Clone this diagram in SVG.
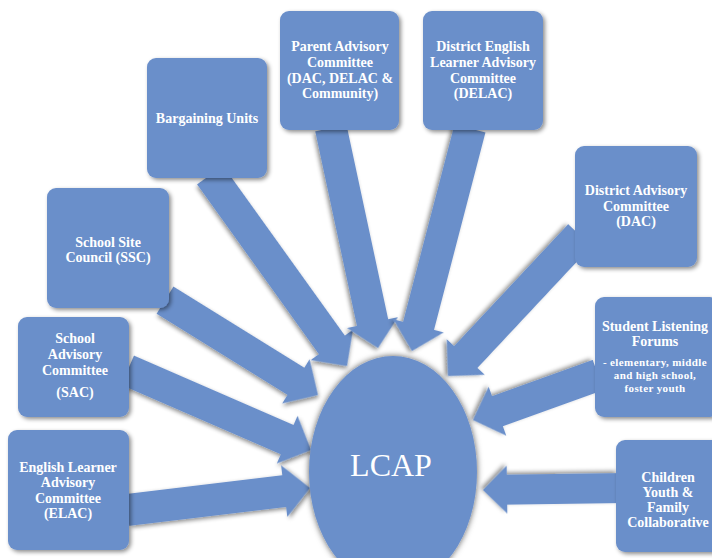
<svg xmlns="http://www.w3.org/2000/svg" width="712" height="558" viewBox="0 0 712 558">
  <defs>
    <filter id="shadow" x="-20%" y="-20%" width="140%" height="140%">
      <feDropShadow dx="2" dy="2" stdDeviation="2" flood-color="#000" flood-opacity="0.45"/>
    </filter>
    <filter id="halo" x="-20%" y="-20%" width="140%" height="140%">
      <feDropShadow dx="0" dy="0" stdDeviation="3" flood-color="#000" flood-opacity="0.65"/>
    </filter>
  </defs>
  <style>
    .box { fill: #6b8fca; filter: url(#shadow); }
    .arrow { fill: #6b8fca; filter: url(#shadow); }
    .hub { fill: #6b8fca; filter: url(#halo); }
    .label { font-family: "Liberation Serif", "DejaVu Serif", serif; font-weight: bold; font-size: 14px; fill: #ffffff; text-anchor: middle; }
    .small { font-size: 11px; letter-spacing: 0.4px; }
    .title { font-family: "Liberation Serif", "DejaVu Serif", serif; font-size: 32px; fill: #ffffff; text-anchor: middle; }
  </style>
  <rect width="712" height="558" fill="#ffffff"/>

  <!-- block arrows: each drawn pointing along +x with its tip at the origin -->
  <g id="connectors">
    <path class="arrow" transform="translate(347,366) rotate(54.35)" d="M-235,-16H-26V-26L0,0L-26,26V16H-235Z"/>
    <path class="arrow" transform="translate(378,348) rotate(77.9)" d="M-225,-16H-26V-26L0,0L-26,26V16H-225Z"/>
    <path class="arrow" transform="translate(412,351) rotate(104.6)" d="M-230,-16H-26V-26L0,0L-26,26V16H-230Z"/>
    <path class="arrow" transform="translate(448,376) rotate(133.1)" d="M-193,-16H-26V-26L0,0L-26,26V16H-193Z"/>
    <path class="arrow" transform="translate(473,420) rotate(160.2)" d="M-133,-16H-26V-26L0,0L-26,26V16H-133Z"/>
    <path class="arrow" transform="translate(483,490) rotate(179.2)" d="M-135,-15H-24V-24L0,0L-24,24V15H-135Z"/>
    <path class="arrow" transform="translate(318,395) rotate(31.8)" d="M-180,-16H-26V-26L0,0L-26,26V16H-180Z"/>
    <path class="arrow" transform="translate(311,450) rotate(23.5)" d="M-200,-16H-26V-26L0,0L-26,26V16H-200Z"/>
    <path class="arrow" transform="translate(310,488) rotate(-6.86)" d="M-184,-16H-26V-26L0,0L-26,26V16H-184Z"/>
  </g>

  <g id="bargaining-units">
    <rect class="box" x="147" y="58" width="120" height="120" rx="9"/>
    <text class="label" x="207" y="123">Bargaining Units</text>
  </g>

  <g id="parent-advisory">
    <rect class="box" x="280" y="11" width="119" height="119" rx="9"/>
    <text class="label" x="340" y="51">Parent Advisory</text>
    <text class="label" x="340" y="67">Committee</text>
    <text class="label" x="340" y="83">(DAC, DELAC &amp;</text>
    <text class="label" x="340" y="98">Community)</text>
  </g>

  <g id="delac">
    <rect class="box" x="423" y="11" width="120" height="119" rx="9"/>
    <text class="label" x="483" y="51">District English</text>
    <text class="label" x="483" y="67">Learner Advisory</text>
    <text class="label" x="483" y="83">Committee</text>
    <text class="label" x="483" y="98">(DELAC)</text>
  </g>

  <g id="dac">
    <rect class="box" x="575" y="146" width="122" height="121" rx="9"/>
    <text class="label" x="636" y="195">District Advisory</text>
    <text class="label" x="636" y="211">Committee</text>
    <text class="label" x="636" y="226">(DAC)</text>
  </g>

  <g id="student-listening">
    <rect class="box" x="595" y="297" width="124" height="120" rx="9"/>
    <text class="label" x="655" y="331">Student Listening</text>
    <text class="label" x="655" y="346">Forums</text>
    <text class="label small" x="655" y="366">- elementary, middle</text>
    <text class="label small" x="655" y="379">and high school,</text>
    <text class="label small" x="655" y="392">foster youth</text>
  </g>

  <g id="children-youth">
    <rect class="box" x="616" y="440" width="106" height="112" rx="9"/>
    <text class="label" x="668" y="482">Children</text>
    <text class="label" x="668" y="497">Youth &amp;</text>
    <text class="label" x="668" y="512">Family</text>
    <text class="label" x="668" y="527">Collaborative</text>
  </g>

  <g id="ssc">
    <rect class="box" x="47" y="188" width="122" height="120" rx="9"/>
    <text class="label" x="108" y="247">School Site</text>
    <text class="label" x="108" y="262">Council (SSC)</text>
  </g>

  <g id="sac">
    <rect class="box" x="18" y="317" width="111" height="100" rx="9"/>
    <text class="label" x="75" y="343">School</text>
    <text class="label" x="75" y="359">Advisory</text>
    <text class="label" x="75" y="375">Committee</text>
    <text class="label" x="75" y="397">(SAC)</text>
  </g>

  <g id="elac">
    <rect class="box" x="8" y="430" width="121" height="120" rx="9"/>
    <text class="label" x="68" y="472">English Learner</text>
    <text class="label" x="68" y="487">Advisory</text>
    <text class="label" x="68" y="503">Committee</text>
    <text class="label" x="68" y="518">(ELAC)</text>
  </g>

  <g id="lcap">
    <ellipse class="hub" cx="393" cy="472" rx="84" ry="116"/>
    <text class="title" x="391" y="476">LCAP</text>
  </g>
</svg>
